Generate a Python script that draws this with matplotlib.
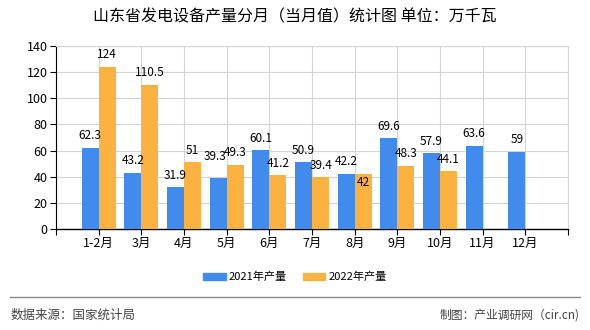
import matplotlib
matplotlib.use("Agg")
import matplotlib.pyplot as plt
import numpy as np
from matplotlib.patches import Rectangle
from matplotlib.lines import Line2D

plt.rcParams['font.family'] = ['Noto Sans CJK SC', 'DejaVu Sans']

categories = ['1-2月', '3月', '4月', '5月', '6月', '7月', '8月', '9月', '10月', '11月', '12月']
values_2021 = [62.3, 43.2, 31.9, 39.3, 60.1, 50.9, 42.2, 69.6, 57.9, 63.6, 59]
values_2022 = [124, 110.5, 51, 49.3, 41.2, 39.4, 42, 48.3, 44.1, None, None]
series_names = ['2021年产量', '2022年产量']
title = '山东省发电设备产量分月（当月值）统计图 单位：万千瓦'
source_text = '数据来源：国家统计局'
maker_text = '制图：产业调研网（cir.cn)'

c_blue = '#418BEC'
c_orange = '#FBB241'

W, H = 590, 330
fig = plt.figure(figsize=(W / 100, H / 100), dpi=100)
ax = fig.add_axes([56 / W, 1 - 229 / H, (568 - 56) / W, (229 - 46) / H])

x = np.arange(len(categories))
bw = 0.4
ax.bar(x - bw / 2, values_2021, width=bw, color=c_blue, zorder=3)
x2 = [xi for xi, v in zip(x, values_2022) if v is not None]
v2 = [v for v in values_2022 if v is not None]
ax.bar(np.array(x2) + bw / 2, v2, width=bw, color=c_orange, zorder=3)


def lab(v):
    return '%g' % v


# label offsets in pixels (default: above bar)
special = {('2021', 3): (-3, 21), ('2022', 6): (0, -8)}
for xi, v in zip(x, values_2021):
    dx, dy = special.get(('2021', xi), (0, 12))
    ax.annotate(lab(v), (xi - bw / 2, v), xytext=(dx, dy), textcoords='offset pixels',
                ha='center', va='center', fontsize=8.5, color='black', zorder=5)
for xi, v in zip(x2, v2):
    dx, dy = special.get(('2022', xi), (0, 12))
    ax.annotate(lab(v), (xi + bw / 2, v), xytext=(dx, dy), textcoords='offset pixels',
                ha='center', va='center', fontsize=8.5, color='black', zorder=5)

ax.set_xlim(-1, len(categories))
ax.set_ylim(0, 140)
ax.set_yticks(np.arange(0, 141, 20))
ax.set_xticks(x)
ax.set_xticklabels(categories, fontsize=9)
ax.set_xticks(np.arange(-1, len(categories) + 1), minor=True)
ax.tick_params(axis='y', labelsize=9, length=4, width=0.8, colors='black', pad=2)
ax.tick_params(axis='x', which='major', length=4, width=0.8, pad=2)
ax.tick_params(axis='x', which='minor', length=4, width=0.8)

ax.grid(True, axis='y', color='#d4d4d4', linewidth=0.8, zorder=0)
for xv in np.arange(-1, len(categories) + 1):
    ax.axvline(xv, color='#d4d4d4', linewidth=0.8, zorder=0)
for s in ['top', 'right']:
    ax.spines[s].set_visible(True)
    ax.spines[s].set_color('#d4d4d4')
    ax.spines[s].set_linewidth(0.8)
ax.spines['left'].set_color('black')
ax.spines['bottom'].set_color('black')
ax.spines['bottom'].set_linewidth(1.0)
ax.spines['left'].set_linewidth(0.8)

fig.text(0.5, 1 - 17 / H, title, ha='center', va='center', fontsize=11.5, color='black')

# legend
handles = [Rectangle((0, 0), 1, 1, color=c_blue), Rectangle((0, 0), 1, 1, color=c_orange)]
fig.legend(handles, series_names, loc='center', bbox_to_anchor=(0.5, 1 - 277 / H), ncol=2,
           frameon=False, fontsize=8, handlelength=2.0, handleheight=0.6,
           columnspacing=1.4, handletextpad=0.3)

fig.add_artist(Line2D([10 / W, 580 / W], [1 - 297 / H, 1 - 297 / H], color='#888888', linewidth=1.0))
fig.text(11 / W, 1 - 315 / H, source_text, ha='left', va='center', fontsize=9, color='#444444')
fig.text(580 / W, 1 - 315 / H, maker_text, ha='right', va='center', fontsize=8.5, color='#444444')

fig.savefig('out.png', dpi=100)
